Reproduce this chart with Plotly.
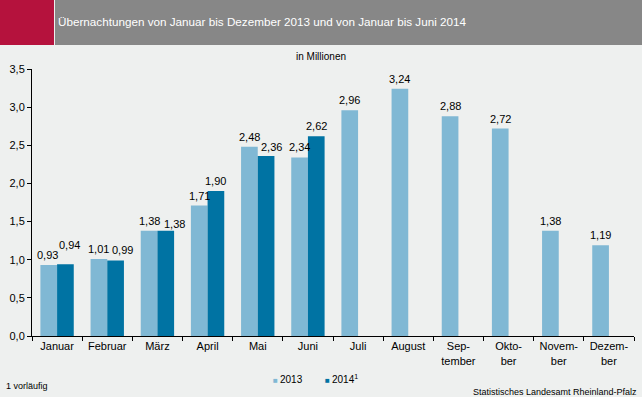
import plotly.graph_objects as go

months = ["Januar", "Februar", "März", "April", "Mai", "Juni", "Juli", "August",
          "Sep-<br>tember", "Okto-<br>ber", "Novem-<br>ber", "Dezem-<br>ber"]
values_2013 = [0.93, 1.01, 1.38, 1.71, 2.48, 2.34, 2.96, 3.24, 2.88, 2.72, 1.38, 1.19]
values_2014 = [0.94, 0.99, 1.38, 1.90, 2.36, 2.62, None, None, None, None, None, None]
series_names = ["2013", "2014"]
y_ticks = [0, 0.5, 1.0, 1.5, 2.0, 2.5, 3.0, 3.5]

title_text = "Übernachtungen von Januar bis Dezember 2013 und von Januar bis Juni 2014"
unit_text = "in Millionen"
footnote_text = "1 vorläufig"
source_text = "Statistisches Landesamt Rheinland-Pfalz"

# label nudges (pixels) to mimic the original label placement
nudge_2013 = [(-1, 0)] + [(0, 0)] * 11
nudge_2014 = [(4, 9), (7, 0), (9, -3), (0, 0), (5, -1), (0, 0)] + [(0, 0)] * 6

C2013 = "#80B8D4"
C2014 = "#0073A3"
BG = "#EEF0EF"
FONT = "Liberation Sans, Arial, sans-serif"

W, H = 642, 397
ML, MR, MT, MB = 32, 8, 69, 61
plot_w = W - ML - MR
plot_h = H - MT - MB

def ppx(px):
    return (px - ML) / plot_w

def ppy(py):
    return (H - MB - py) / plot_h

fig = go.Figure()
fig.add_trace(go.Bar(x=months, y=values_2013, name=series_names[0], marker_color=C2013,
                     marker_line_width=0, showlegend=False))
fig.add_trace(go.Bar(x=months, y=values_2014, name=series_names[1], marker_color=C2014,
                     marker_line_width=0, showlegend=False))

cat_w = plot_w / len(months)
bargap = 0.335
bar_w = cat_w * (1 - bargap) / 2

annotations = []
for vals, nudges, sign in ((values_2013, nudge_2013, -1), (values_2014, nudge_2014, 1)):
    for m, v, (dx, dy) in zip(months, vals, nudges):
        if v is None:
            continue
        annotations.append(dict(
            x=m, y=v, xref="x", yref="y", text=f"{v:.2f}".replace(".", ","),
            showarrow=False, yanchor="bottom", xanchor="center",
            xshift=sign * bar_w / 2 + dx, yshift=2 + dy,
            font=dict(family=FONT, size=11, color="#000000")))

def ptext(px, py, text, size, anchor="left", color="#000000", family=FONT):
    return dict(x=ppx(px), y=ppy(py), xref="paper", yref="paper", text=text,
                showarrow=False, xanchor=anchor, yanchor="middle",
                font=dict(family=family, size=size, color=color))

annotations += [
    ptext(56, 21, title_text, 11.7, color="#FFFFFF"),
    ptext(321, 57, unit_text, 10, anchor="center"),
    ptext(4, 386, footnote_text, 9),
    ptext(639, 392, source_text, 9, anchor="right"),
    # legend
    ptext(271, 380, f"<span style='color:{C2013};font-size:8px'>■</span>", 8),
    ptext(278, 379, series_names[0], 10),
    ptext(323, 380, f"<span style='color:{C2014};font-size:8px'>■</span>", 8),
    ptext(330, 379, f"{series_names[1]}<sup>1</sup>", 10),
]

shapes = [
    dict(type="rect", xref="paper", yref="paper", x0=ppx(0), x1=ppx(54), y0=ppy(45), y1=ppy(0),
         fillcolor="#B5123D", line_width=0, layer="below"),
    dict(type="rect", xref="paper", yref="paper", x0=ppx(55), x1=ppx(W), y0=ppy(45), y1=ppy(0),
         fillcolor="#878787", line_width=0, layer="below"),
]

fig.update_layout(
    width=W, height=H,
    margin=dict(l=ML, r=MR, t=MT, b=MB, pad=0, autoexpand=False),
    paper_bgcolor=BG, plot_bgcolor=BG,
    barmode="group", bargap=bargap, bargroupgap=0,
    separators=",.",
    font=dict(family=FONT, size=11, color="#000000"),
    showlegend=False,
    annotations=annotations,
    shapes=shapes,
    xaxis=dict(showline=True, linecolor="#000000", linewidth=1, ticks="outside",
               tickson="boundaries", ticklen=4, tickcolor="#000000", showgrid=False,
               tickfont=dict(family=FONT, size=11, color="#000000"), fixedrange=True),
    yaxis=dict(range=[0, 3.5], tickvals=y_ticks, tickformat=".1f", showline=True,
               linecolor="#000000", linewidth=1, ticks="outside", ticklen=4,
               tickcolor="#000000", showgrid=False, zeroline=False,
               tickfont=dict(family=FONT, size=11, color="#000000"), fixedrange=True),
)

fig.write_html("out.html", config={"displayModeBar": False},
               post_script="document.body.style.margin='0';document.body.style.overflow='hidden';")
